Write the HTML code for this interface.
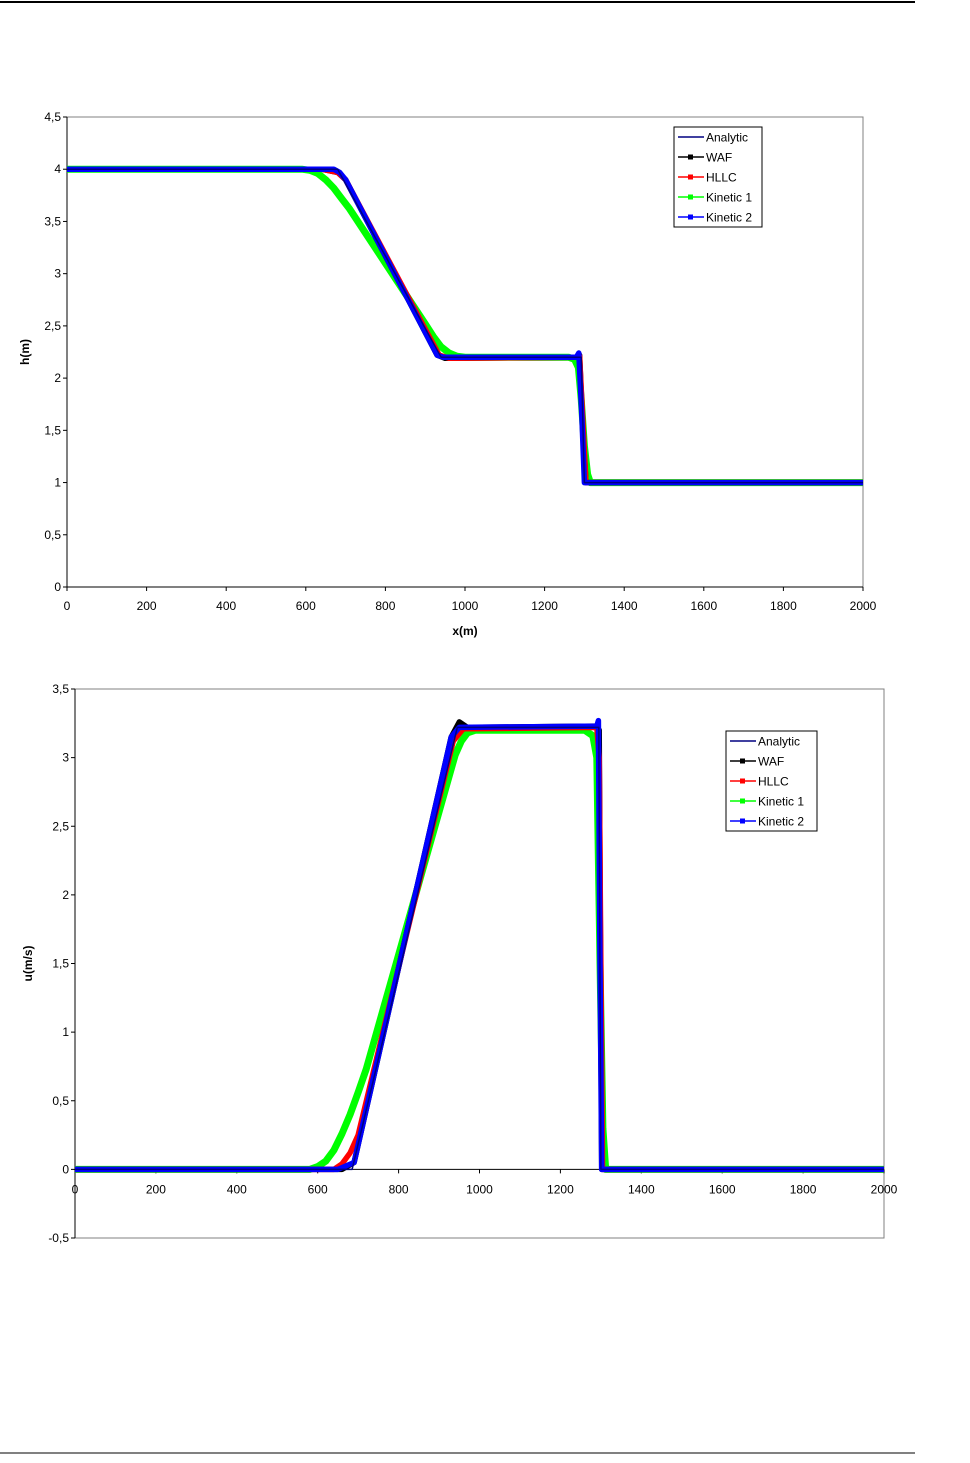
<!DOCTYPE html>
<html><head><meta charset="utf-8"><style>
body{margin:0;background:#fff;width:970px;height:1463px;overflow:hidden;font-family:"Liberation Sans",sans-serif}
svg{position:absolute;left:0;top:0}
text{font-family:"Liberation Sans",sans-serif;font-size:12px;fill:#000}
</style></head><body>
<svg id="s" width="970" height="1463">
<line x1="0" y1="2" x2="915" y2="2" stroke="#000" stroke-width="2"/>
<line x1="0" y1="1453" x2="915" y2="1453" stroke="#000" stroke-width="1"/>
</svg>
<script>
const ticksX=[0,200,400,600,800,1000,1200,1400,1600,1800,2000];
const hTicks=[0,0.5,1,1.5,2,2.5,3,3.5,4,4.5];
const uTicks=[-0.5,0,0.5,1,1.5,2,2.5,3,3.5];
const seriesNames=["Analytic","WAF","HLLC","Kinetic 1","Kinetic 2"];
const seriesColors=["#000080","#000","#f00","#0f0","#00f"];
// h(m) data
const hX_an=[0,680,940,1290,1292,1300,2000];
const hY_an=[4,4,2.2,2.2,2.2,1,1];
const hX_waf=[0,640,680,700,930,950,1280,1288,1296,1304,2000];
const hY_waf=[4,4,3.97,3.9,2.22,2.19,2.2,2.22,1.5,1,1];
const hX_hllc=[0,640,680,700,935,960,1280,1288,1296,1304,2000];
const hY_hllc=[4,4,3.97,3.9,2.22,2.19,2.2,2.21,1.6,1,1];
const hX_k1=[0,590,610,630,650,670,690,710,900,920,940,960,980,1000,1260,1275,1285,1292,1300,1308,1315,2000];
const hY_k1=[4,4,3.99,3.96,3.9,3.82,3.72,3.62,2.52,2.4,2.3,2.24,2.21,2.2,2.2,2.18,2.1,1.8,1.35,1.08,1,1];
const hX_k2=[0,670,685,700,930,945,1280,1286,1294,1300,2000];
const hY_k2=[4,4,3.97,3.9,2.22,2.2,2.2,2.24,1.6,1,1];
// u(m/s) data
const uX_an=[0,685,945,1295,1300,2000];
const uY_an=[0,0,3.22,3.22,0,0];
const uX_waf=[0,660,690,930,950,970,1290,1296,1302,2000];
const uY_waf=[0,0,0.05,3.15,3.26,3.22,3.23,3.2,0,0];
const uX_hllc=[0,640,660,680,700,935,960,1290,1296,1304,2000];
const uY_hllc=[0,0,0.04,0.12,0.25,3.12,3.21,3.22,3.0,0,0];
const uX_k1=[0,580,600,620,640,660,680,700,720,940,955,970,990,1260,1280,1290,1298,1305,1312,2000];
const uY_k1=[0,0,0.02,0.06,0.14,0.26,0.4,0.56,0.73,3.02,3.12,3.18,3.2,3.2,3.16,3.0,1.5,0.3,0,0];
const uX_k2=[0,650,690,930,950,1290,1294,1298,1302,2000];
const uY_k2=[0,0,0.05,3.15,3.22,3.23,3.27,1.5,0,0];

const NS="http://www.w3.org/2000/svg";
const svg=document.getElementById('s');
function mk(tag,attrs,parent){const e=document.createElementNS(NS,tag);for(const k in attrs)e.setAttribute(k,attrs[k]);(parent||svg).appendChild(e);return e;}

function chart(cfg){
  const g=mk('g',{});
  
  
  const sx=v=>cfg.L+(v-0)/(2000)*(cfg.R-cfg.L);
  const sy=v=>cfg.B-(v-cfg.ymin)/(cfg.ymax-cfg.ymin)*(cfg.B-cfg.T);
  const frame=mk('rect',{x:cfg.L,y:cfg.T,width:cfg.R-cfg.L,height:cfg.B-cfg.T,fill:'#fff',stroke:'#808080','stroke-width':1},g);
  
  
  const ya=mk('line',{x1:cfg.L,y1:cfg.T,x2:cfg.L,y2:cfg.B,stroke:'#000'},g);
  
  
  const x0=sy(0);
  const xa=mk('line',{x1:cfg.L,y1:x0,x2:cfg.R,y2:x0,stroke:'#000'},g);
  
  
  cfg.yt.forEach(v=>{
    mk('line',{x1:cfg.L-4,y1:sy(v),x2:cfg.L,y2:sy(v),stroke:'#000'},g);
    const t=mk('text',{x:cfg.L-6,y:sy(v)+4,'text-anchor':'end'},g);
    t.textContent=String(v).replace('.',',');
    
    
  });
  ticksX.forEach(v=>{
    mk('line',{x1:sx(v),y1:x0,x2:sx(v),y2:x0+4,stroke:'#000'},g);
    const t=mk('text',{x:sx(v),y:x0+cfg.xlOff,'text-anchor':'middle'},g);
    t.textContent=v;
    
    
  });
  const order=[3,1,2,4,0];
  order.forEach(i=>{
    const xs=cfg.data[i][0],ys=cfg.data[i][1];
    const pts=xs.map((x,j)=>sx(x).toFixed(1)+','+sy(ys[j]).toFixed(1)).join(' ');
    const w=i===0?1.5:(i===3?7:5.5);
    const p=mk('polyline',{points:pts,fill:'none',stroke:seriesColors[i],'stroke-width':w,'stroke-linejoin':'round'},g);
    
    
  });
  const yl=mk('text',{x:cfg.ylx,y:(cfg.T+cfg.B)/2,'text-anchor':'middle','font-weight':'bold',transform:`rotate(-90 ${cfg.ylx} ${(cfg.T+cfg.B)/2})`},g);
  yl.textContent=cfg.ylab;
  
  
  if(cfg.xlab){
    const xl=mk('text',{x:(cfg.L+cfg.R)/2,y:cfg.B+48,'text-anchor':'middle','font-weight':'bold'},g);
    xl.textContent=cfg.xlab;
    
    
  }
  const lg=mk('g',{},g);
  
  
  mk('rect',{x:cfg.lgx,y:cfg.lgy,width:cfg.lgw,height:100,fill:'#fff',stroke:'#000'},lg);
  seriesNames.forEach((n,i)=>{
    const yy=cfg.lgy+10+i*20;
    const e=mk('g',{},lg);
    
    
    mk('line',{x1:cfg.lgx+4,y1:yy,x2:cfg.lgx+30,y2:yy,stroke:seriesColors[i],'stroke-width':1.5},e);
    if(i>0)mk('rect',{x:cfg.lgx+14,y:yy-2.5,width:5,height:5,fill:seriesColors[i]},e);
    const t=mk('text',{x:cfg.lgx+32,y:yy+4.5,'font-size':13},e);
    t.textContent=n;
  });
}
chart({name:'h-chart',L:67,R:863,T:117,B:587,ymin:0,ymax:4.5,yt:hTicks,xlOff:23,ylab:'h(m)',ylx:29,xlab:'x(m)',
  lgx:674,lgy:127,lgw:88,
  data:[[hX_an,hY_an],[hX_waf,hY_waf],[hX_hllc,hY_hllc],[hX_k1,hY_k1],[hX_k2,hY_k2]]});
chart({name:'u-chart',L:75,R:884,T:689,B:1238,ymin:-0.5,ymax:3.5,yt:uTicks,xlOff:24,ylab:'u(m/s)',ylx:32,xlab:null,
  lgx:726,lgy:731,lgw:91,
  data:[[uX_an,uY_an],[uX_waf,uY_waf],[uX_hllc,uY_hllc],[uX_k1,uY_k1],[uX_k2,uY_k2]]});
</script>
</body></html>
